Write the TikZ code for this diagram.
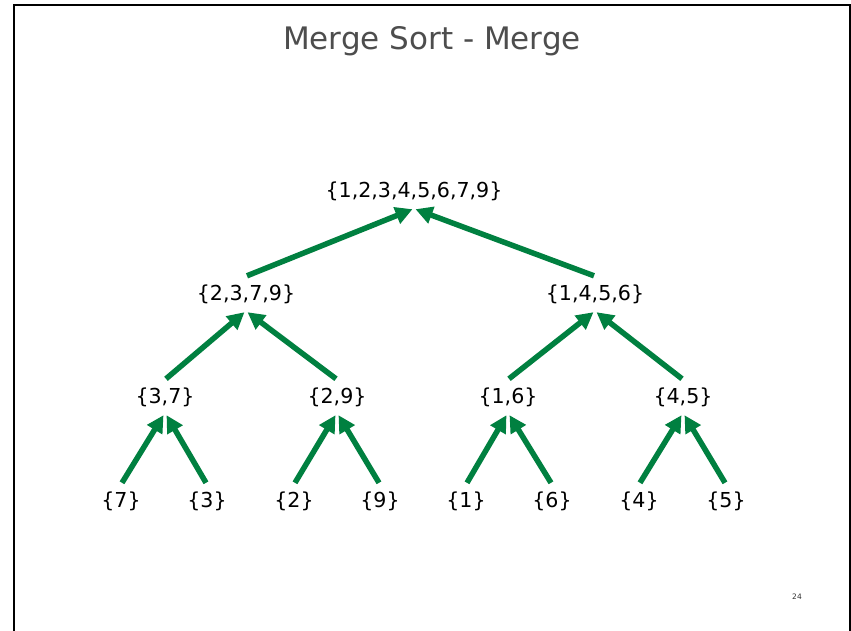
\documentclass[tikz,border=0pt]{standalone}
\usepackage{fontspec}
\setmainfont{DejaVu Sans}
\usetikzlibrary{arrows.meta}
\definecolor{arrgreen}{RGB}{0,128,64}
\definecolor{titlegrey}{RGB}{77,77,77}
\tikzset{
  setnode/.style={inner sep=0pt, minimum height=36pt, font=\fontsize{20.6}{24}\selectfont},
  mergearrow/.style={draw=arrgreen, line width=5.5pt, -{Triangle[length=17pt,width=17pt]}},
}
\begin{document}
\begin{tikzpicture}[x=1pt,y=-1pt]
\useasboundingbox (0,0) rectangle (851,631);
\fill[white] (0,0) rectangle (851,631);
% frame
\draw[line width=2pt, black] (14,640) -- (14,5) -- (849.5,5) -- (849.5,640);
% title
\node[font=\fontsize{31}{36}\selectfont, text=titlegrey] (title) at (432,41) {Merge Sort - Merge};
% nodes
\node[setnode] (r) at (414,191) {\{1,2,3,4,5,6,7,9\}};
\node[setnode] (a) at (246,294) {\{2,3,7,9\}};
\node[setnode] (b) at (595,294) {\{1,4,5,6\}};
\node[setnode] (a1) at (165,397) {\{3,7\}};
\node[setnode] (a2) at (337,397) {\{2,9\}};
\node[setnode] (b1) at (508,397) {\{1,6\}};
\node[setnode] (b2) at (683,397) {\{4,5\}};
\node[setnode] (l1) at (121,501) {\{7\}};
\node[setnode] (l2) at (207,501) {\{3\}};
\node[setnode] (l3) at (294,501) {\{2\}};
\node[setnode] (l4) at (380,501) {\{9\}};
\node[setnode] (l5) at (466,501) {\{1\}};
\node[setnode] (l6) at (552,501) {\{6\}};
\node[setnode] (l7) at (639,501) {\{4\}};
\node[setnode] (l8) at (726,501) {\{5\}};
\node[font=\fontsize{7.5}{8}\selectfont, text=black!80] (pg) at (797,597) {24};
% arrows
\foreach \c/\p in {a/r, a1/a, b1/b, l1/a1, l3/a2, l5/b1, l7/b2}
  \draw[mergearrow] ([xshift=1pt]\c.north) -- ([xshift=-1.5pt]\p.south);
\foreach \c/\p in {b/r, a2/a, b2/b, l2/a1, l4/a2, l6/b1, l8/b2}
  \draw[mergearrow] ([xshift=-1pt]\c.north) -- ([xshift=1.5pt]\p.south);
\end{tikzpicture}
\end{document}
